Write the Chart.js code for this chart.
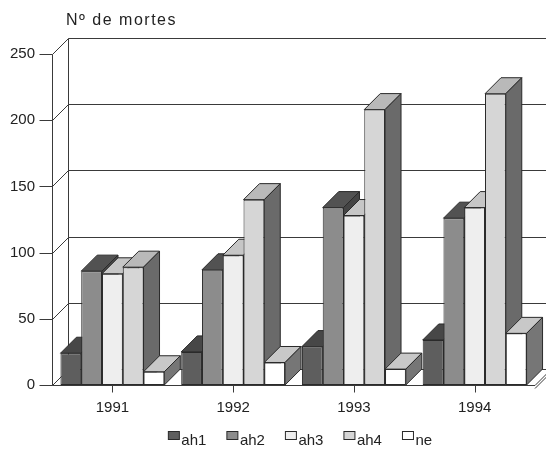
<!DOCTYPE html>
<html>
<head>
<meta charset="utf-8">
<script src="https://cdn.jsdelivr.net/npm/chart.js@4/dist/chart.umd.min.js"></script>
<style>
html,body{margin:0;padding:0;background:#ffffff;}
#wrap{width:546px;height:450px;position:relative;}
</style>
</head>
<body>
<div id="wrap"><canvas id="c" width="546" height="450"></canvas></div>
<script>
// ---- data ----
const categories = ['1991', '1992', '1993', '1994'];
const ah1 = [24, 25, 29, 34];
const ah2 = [86, 87, 134, 126];
const ah3 = [84, 98, 128, 134];
const ah4 = [89, 140, 208, 220];
const ne  = [10, 17, 12, 39];
const seriesNames = ['ah1', 'ah2', 'ah3', 'ah4', 'ne'];
const yTicks = [0, 50, 100, 150, 200, 250];
const titleText = 'Nº de mortes';

// ---- styling ----
const FONT = '"Liberation Sans", Arial, Helvetica, sans-serif';
const DX = 16, DY = 16;           // depth of the 3-D projection
const EDGE = '#2a2a2a';
const faceColors = [
  {front: '#5e5e5e', top: '#474747', side: '#3a3a3a'},   // ah1
  {front: '#8c8c8c', top: '#525252', side: '#444444'},   // ah2
  {front: '#eeeeee', top: '#c6c6c6', side: '#8a8a8a'},   // ah3
  {front: '#d6d6d6', top: '#b9b9b9', side: '#6a6a6a'},   // ah4
  {front: '#ffffff', top: '#c8c8c8', side: '#767676'}    // ne
];
const seriesValues = [ah1, ah2, ah3, ah4, ne];

function line(ctx, x1, y1, x2, y2) {
  ctx.beginPath(); ctx.moveTo(x1, y1); ctx.lineTo(x2, y2); ctx.stroke();
}
function poly(ctx, pts, fill) {
  ctx.beginPath();
  ctx.moveTo(pts[0][0], pts[0][1]);
  for (let k = 1; k < pts.length; k++) ctx.lineTo(pts[k][0], pts[k][1]);
  ctx.closePath();
  ctx.fillStyle = fill; ctx.fill();
  ctx.strokeStyle = EDGE; ctx.lineWidth = 1; ctx.stroke();
}

const threeD = {
  id: 'threeD',
  beforeDatasetsDraw(chart) {
    const ctx = chart.ctx, ca = chart.chartArea;
    const ys = chart.scales.y, xs = chart.scales.x;
    const W = chart.width;
    const L = Math.round(ca.left) + 0.5, R = ca.right, B = Math.round(ys.getPixelForValue(0)) + 0.5;
    ctx.save();
    ctx.strokeStyle = '#3a3a3a';
    ctx.lineWidth = 1;
    // back-wall grid, left-wall slants, tick marks
    yTicks.forEach(v => {
      const py = Math.round(ys.getPixelForValue(v)) + 0.5;
      line(ctx, L + DX, py - DY, W, py - DY);
      line(ctx, L, py, L + DX, py - DY);
      line(ctx, L - 13, py, L, py);
    });
    const topY = Math.round(ys.getPixelForValue(yTicks[yTicks.length - 1])) + 0.5;
    line(ctx, L, topY, L, B);                    // front vertical edge
    line(ctx, L + DX, topY - DY, L + DX, B - DY); // back vertical edge
    line(ctx, L, B, R, B);                       // floor front edge
    line(ctx, R, B, R + DX, B - DY);             // floor right edge
    line(ctx, R, B + 3, R + DX, B + 3 - DY);
    // category tick marks
    categories.forEach((c, i) => {
      const px = Math.round(xs.getPixelForValue(i)) + 0.5;
      line(ctx, px, B, px, B + 7);
    });
    // tops and sides of the bars, painted left to right
    for (let i = 0; i < categories.length; i++) {
      chart.data.datasets.forEach((ds, di) => {
        const el = chart.getDatasetMeta(di).data[i];
        const p = el.getProps(['x', 'y', 'width', 'base'], true);
        const l = p.x - p.width / 2, r = p.x + p.width / 2, t = p.y, b = p.base;
        poly(ctx, [[l, t], [l + DX, t - DY], [r + DX, t - DY], [r, t]], faceColors[di].top);
        poly(ctx, [[r, t], [r + DX, t - DY], [r + DX, b - DY], [r, b]], faceColors[di].side);
      });
    }
    ctx.restore();
  },
  afterDraw(chart) {
    const ctx = chart.ctx, ca = chart.chartArea;
    ctx.save();
    // title
    ctx.fillStyle = '#222';
    ctx.font = '16px ' + FONT;
    ctx.textBaseline = 'alphabetic';
    ctx.textAlign = 'left';
    try { ctx.letterSpacing = '1.5px'; } catch (e) {}
    ctx.fillText(titleText, ca.left + DX - 2, 25);
    try { ctx.letterSpacing = '0px'; } catch (e) {}
    // legend
    ctx.font = '15px ' + FONT;
    const boxW = 11, boxH = 8, gapBT = 2.5, gapItem = 20;
    const ds = chart.data.datasets;
    let total = 0;
    ds.forEach((d, k) => {
      total += boxW + gapBT + ctx.measureText(d.label).width + (k < ds.length - 1 ? gapItem : 0);
    });
    let x = 300 - total / 2;
    const baseY = 445;
    ds.forEach((d, k) => {
      ctx.fillStyle = faceColors[k].front;
      ctx.fillRect(x + 0.5, baseY - 13.5, boxW, boxH);
      ctx.strokeStyle = EDGE; ctx.lineWidth = 1;
      ctx.strokeRect(x + 0.5, baseY - 13.5, boxW, boxH);
      ctx.fillStyle = '#222';
      ctx.fillText(d.label, x + boxW + gapBT, baseY);
      x += boxW + gapBT + ctx.measureText(d.label).width + gapItem;
    });
    ctx.restore();
  }
};

new Chart(document.getElementById('c'), {
  type: 'bar',
  data: {
    labels: categories,
    datasets: seriesNames.map((name, k) => ({
      label: name,
      data: seriesValues[k],
      backgroundColor: faceColors[k].front,
      borderColor: EDGE,
      borderWidth: 1,
      borderSkipped: false,
      categoryPercentage: 0.86,
      barPercentage: 1.0
    }))
  },
  options: {
    responsive: false,
    animation: false,
    devicePixelRatio: 1,
    layout: {padding: {left: 0, right: 11, top: 54, bottom: 33}},
    plugins: {
      legend: {display: false},
      title: {display: false},
      tooltip: {enabled: false}
    },
    scales: {
      x: {
        grid: {display: false, drawTicks: false},
        border: {display: false},
        ticks: {color: '#222', font: {family: FONT, size: 15}, padding: 14},
        afterFit(s) { s.height = 32; }
      },
      y: {
        min: 0, max: 250,
        grid: {display: false, drawTicks: false},
        border: {display: false},
        ticks: {stepSize: 50, color: '#222', font: {family: FONT, size: 15}, padding: 17},
        afterFit(s) { s.width = 52; }
      }
    }
  },
  plugins: [threeD]
});
</script>
</body>
</html>
